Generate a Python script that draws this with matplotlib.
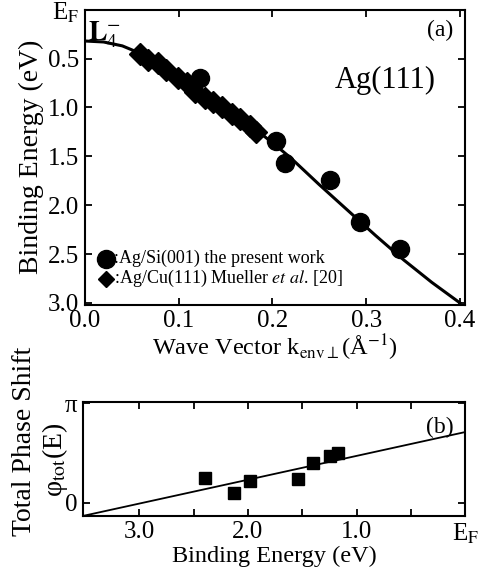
import matplotlib
matplotlib.use('Agg')
import matplotlib.pyplot as plt
import numpy as np

plt.rcParams['font.family'] = ['Liberation Serif', 'DejaVu Serif']
plt.rcParams['mathtext.fontset'] = 'stix'

# ---- panel (a): dispersion of L4- state ----
curve_k = [0, 0.02, 0.04, 0.06, 0.08, 0.10, 0.12, 0.14, 0.16, 0.18,
           0.20, 0.22, 0.25, 0.28, 0.31, 0.34, 0.37, 0.40]
curve_e = [0.32, 0.33, 0.37, 0.45, 0.56, 0.68, 0.82, 0.95, 1.08, 1.21,
           1.36, 1.52, 1.79, 2.05, 2.31, 2.56, 2.79, 3.00]

si_k = [0.123, 0.204, 0.213, 0.261, 0.293, 0.336]
si_e = [0.70, 1.34, 1.57, 1.74, 2.17, 2.45]

cu_k = [0.059, 0.067, 0.078, 0.087, 0.099, 0.109, 0.117, 0.128,
        0.137, 0.146, 0.157, 0.165, 0.176, 0.183]
cu_e = [0.45, 0.51, 0.55, 0.62, 0.70, 0.75, 0.84, 0.90,
        0.94, 1.00, 1.07, 1.12, 1.19, 1.25]

# ---- panel (b): total phase shift (in units of pi) ----
fit_be = [3.52, 0.0]
fit_phi = [-0.13, 0.71]
sq_be = [2.40, 2.13, 1.98, 1.54, 1.40, 1.24, 1.17]
sq_phi = [0.25, 0.10, 0.22, 0.24, 0.40, 0.47, 0.50]

fig = plt.figure(figsize=(4.82, 5.72), dpi=100)
fig.patch.set_facecolor('white')

FS = 18

def style(ax):
    for s in ax.spines.values():
        s.set_linewidth(1.5)
    ax.tick_params(direction='in', length=5, width=1.3, top=True, right=True,
                   labelsize=FS, pad=4)

# ── (a) ──────────────────────────────────────────────────────────────
ax1 = fig.add_axes([0.176, 0.467, 0.788, 0.516])
ax1.plot(curve_k, curve_e, color='black', lw=2.2, zorder=2)
ax1.plot(cu_k, cu_e, 'D', color='black', ms=11, zorder=3)
ax1.plot(si_k, si_e, 'o', color='black', ms=13, zorder=3)
ax1.set_xlim(0, 0.405)
ax1.set_ylim(3.02, 0)
ax1.set_xticks([0.0, 0.1, 0.2, 0.3, 0.4])
ax1.set_xticklabels(['0.0', '0.1', '0.2', '0.3', '0.4'])
ax1.set_yticks([0, 0.5, 1.0, 1.5, 2.0, 2.5, 3.0])
ax1.set_yticklabels([r'E$_{\mathrm{F}}$', '0.5', '1.0', '1.5', '2.0', '2.5', '3.0'])
style(ax1)
ax1.set_xlabel(r'Wave Vector k$_{\mathrm{env}\perp}$(Å$^{\mathrm{-1}}$)',
               fontsize=17.5, labelpad=0)
ax1.set_ylabel('Binding Energy (eV)', fontsize=20, labelpad=3)

ax1.text(0.008, 0.965, r'$\mathbf{L}_{4}^{-}$', transform=ax1.transAxes,
         fontsize=20, ha='left', va='top')
ax1.text(0.97, 0.965, '(a)', transform=ax1.transAxes, fontsize=17,
         ha='right', va='top')
ax1.text(0.79, 0.76, 'Ag(111)', transform=ax1.transAxes, fontsize=22,
         ha='center', va='center')

# legend drawn by hand
ax1.plot([0.055], [0.157], 'o', color='black', ms=13, transform=ax1.transAxes,
         clip_on=False)
ax1.text(0.078, 0.157, ':Ag/Si(001) the present work', transform=ax1.transAxes,
         fontsize=13, ha='left', va='center')
ax1.plot([0.057], [0.088], 'D', color='black', ms=8, transform=ax1.transAxes,
         clip_on=False)
ax1.text(0.078, 0.088, r':Ag/Cu(111) Mueller $\it{et\ al}$. [20]',
         transform=ax1.transAxes, fontsize=13, ha='left', va='center')

# ── (b) ──────────────────────────────────────────────────────────────
ax2 = fig.add_axes([0.172, 0.098, 0.793, 0.199])
ax2.plot(fit_be, np.array(fit_phi) * np.pi, color='black', lw=1.3)
ax2.plot(sq_be, np.array(sq_phi) * np.pi, 's', color='black', ms=9)
ax2.set_xlim(3.52, 0)
ax2.set_ylim(-0.13 * np.pi, 1.01 * np.pi)
ax2.set_xticks([3.0, 2.0, 1.0, 0.0])
ax2.set_xticklabels(['3.0', '2.0', '1.0', r'E$_{\mathrm{F}}$'])
ax2.set_xticks([2.5, 1.5, 0.5], minor=True)
ax2.set_yticks([0, np.pi])
ax2.set_yticklabels(['0', 'π'])
style(ax2)
ax2.tick_params(which='minor', direction='in', length=5, width=1.3,
                top=True, right=True)
ax2.set_xlabel('Binding Energy (eV)', fontsize=17.5, labelpad=0)
ax2.text(0.97, 0.87, '(b)', transform=ax2.transAxes, fontsize=17,
         ha='right', va='top')

fig.text(0.05, 0.228, 'Total Phase Shift', rotation=90, fontsize=20,
         ha='center', va='center')
fig.text(0.115, 0.196, 'φ$_{\\mathrm{tot}}$(E)', rotation=90, fontsize=20,
         ha='center', va='center')

fig.savefig('out.png', dpi=100, facecolor='white')
